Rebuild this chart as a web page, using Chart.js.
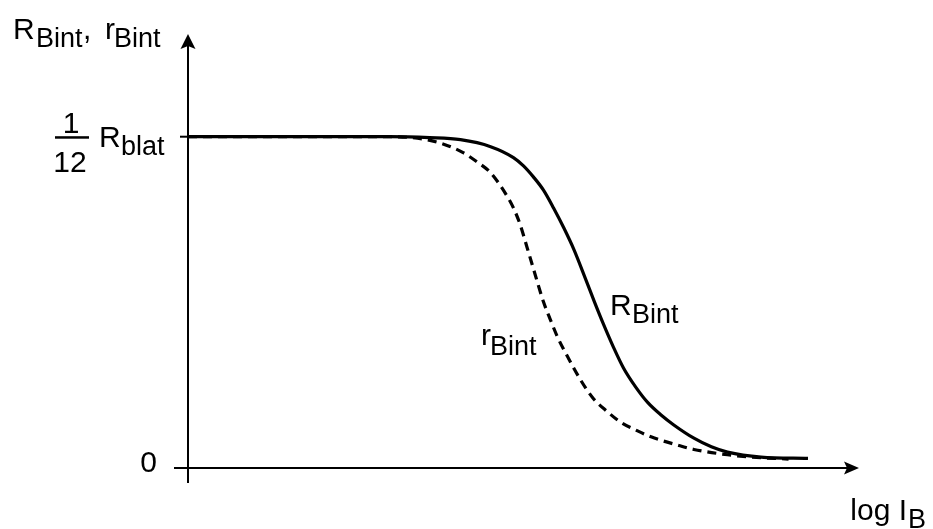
<!DOCTYPE html>
<html>
<head>
<meta charset="utf-8">
<title>R_Bint and r_Bint versus log I_B</title>
<script src="https://cdn.jsdelivr.net/npm/chart.js@4/dist/chart.umd.min.js"></script>
<style>
  html, body { margin: 0; padding: 0; background: #ffffff; }
  #wrap { width: 933px; height: 529px; position: relative; }
</style>
</head>
<body>
<div id="wrap"><canvas id="chart" width="933" height="529"></canvas></div>
<script>
// Horizontal position along log I_B (arbitrary units, 0 = vertical axis)
const RBintX = [0, 30, 36, 40.6, 45.1, 48.5, 50, 51.5, 53, 54.5, 56, 57.5, 59.3, 60.6, 61.9, 63.4, 64.9, 66.7, 68.5, 70.5, 72.4, 75.4, 78, 80.4, 85.4, 92.4];
// Solid curve: R_Bint relative to (1/12) R_blat
const RBintY = [1, 1, 0.997, 0.991, 0.970, 0.937, 0.912, 0.878, 0.838, 0.784, 0.725, 0.660, 0.568, 0.500, 0.435, 0.365, 0.302, 0.245, 0.198, 0.160, 0.130, 0.090, 0.064, 0.048, 0.033, 0.029];

const rBintX = [0, 30, 35, 38, 41, 43, 45.1, 47.6, 48.5, 49.5, 50.5, 51.5, 53, 54, 55.1, 56.6, 58.5, 60.4, 62.5, 64.5, 67, 69, 73, 75.4, 80.4, 85.4, 89.5];
// Dashed curve: r_Bint relative to (1/12) R_blat
const rBintY = [1, 1, 0.993, 0.978, 0.952, 0.925, 0.891, 0.819, 0.785, 0.735, 0.668, 0.600, 0.500, 0.448, 0.394, 0.335, 0.266, 0.210, 0.170, 0.138, 0.112, 0.094, 0.069, 0.056, 0.040, 0.031, 0.027];

// Value-axis marks
const yTickValues = [0, 1];

const X_MIN = 0, X_MAX = 100;
const Y_MIN = 0, Y_MAX = 1.31;

const FONT = '"Liberation Sans", Arial, Helvetica, sans-serif';
const MAIN = 30, SUB = 27;

function pts(xs, ys) { return xs.map((x, i) => ({ x: x, y: ys[i] })); }

// Draws a base text followed by a lowered subscript
function subText(ctx, base, sub, x, y, subX, drop) {
  ctx.font = MAIN + 'px ' + FONT;
  ctx.fillText(base, x, y);
  ctx.font = SUB + 'px ' + FONT;
  ctx.fillText(sub, subX, y + drop);
}

const axesPlugin = {
  id: 'axesAndLabels',
  afterDatasetsDraw(chart) {
    const ctx = chart.ctx;
    const xs = chart.scales.x, ys = chart.scales.y;
    const x0 = xs.getPixelForValue(0);
    const y0 = ys.getPixelForValue(0);
    const top = chart.chartArea.top;
    const right = chart.chartArea.right;

    ctx.save();
    ctx.strokeStyle = '#000';
    ctx.fillStyle = '#000';
    ctx.lineWidth = 2;
    ctx.lineCap = 'butt';

    // vertical axis with arrow
    ctx.beginPath();
    ctx.moveTo(x0, y0 + 15);
    ctx.lineTo(x0, top + 10);
    ctx.stroke();
    ctx.beginPath();
    ctx.moveTo(x0, top);
    ctx.lineTo(x0 - 7.5, top + 15);
    ctx.lineTo(x0, top + 12);
    ctx.lineTo(x0 + 7.5, top + 15);
    ctx.closePath();
    ctx.fill();

    // horizontal axis with arrow
    ctx.beginPath();
    ctx.moveTo(x0 - 14, y0);
    ctx.lineTo(right - 10, y0);
    ctx.stroke();
    ctx.beginPath();
    ctx.moveTo(right, y0);
    ctx.lineTo(right - 15, y0 - 6.5);
    ctx.lineTo(right - 12, y0);
    ctx.lineTo(right - 15, y0 + 6.5);
    ctx.closePath();
    ctx.fill();

    // tick at the upper plateau value
    yTickValues.filter(v => v !== 0).forEach(v => {
      const py = ys.getPixelForValue(v);
      ctx.beginPath();
      ctx.moveTo(x0 - 8, py);
      ctx.lineTo(x0, py);
      ctx.stroke();
    });

    ctx.textBaseline = 'alphabetic';
    ctx.textAlign = 'left';

    // axis titles
    ctx.font = MAIN + 'px ' + FONT;
    ctx.fillText('R', 13, 39);
    ctx.font = SUB + 'px ' + FONT;
    ctx.fillText('Bint', 36, 47);
    ctx.font = MAIN + 'px ' + FONT;
    ctx.fillText(',', 83, 39);
    ctx.fillText('r', 105, 39);
    ctx.font = SUB + 'px ' + FONT;
    ctx.fillText('Bint', 114, 47);

    ctx.textAlign = 'right';
    ctx.font = SUB + 'px ' + FONT;
    ctx.fillText('B', 926, 528);
    ctx.font = MAIN + 'px ' + FONT;
    ctx.fillText('log I', 907, 520);

    // tick labels
    ctx.fillText('0', 157, y0 + 4);

    const p1 = ys.getPixelForValue(1);
    ctx.textAlign = 'center';
    ctx.fillText('1', 71, p1 - 4);
    ctx.fillText('12', 70, p1 + 35);
    ctx.fillRect(55, p1 - 0.5, 34, 2.5);
    ctx.textAlign = 'left';
    subText(ctx, 'R', 'blat', 99, p1 + 10, 121, 8);

    // curve labels
    subText(ctx, 'r', 'Bint', 481, 345, 490, 10);
    subText(ctx, 'R', 'Bint', 610, 315, 632, 8);

    ctx.restore();
  }
};

new Chart(document.getElementById('chart'), {
  type: 'line',
  data: {
    datasets: [
      {
        label: 'R_Bint',
        data: pts(RBintX, RBintY),
        borderColor: '#000',
        borderWidth: 3.2,
        pointRadius: 0,
        cubicInterpolationMode: 'monotone',
        fill: false
      },
      {
        label: 'r_Bint',
        data: pts(rBintX, rBintY),
        borderColor: '#000',
        borderWidth: 3.2,
        borderDash: [9, 6],
        pointRadius: 0,
        cubicInterpolationMode: 'monotone',
        fill: false
      }
    ]
  },
  options: {
    responsive: false,
    animation: false,
    devicePixelRatio: 1,
    layout: { padding: { left: 188, right: 74, top: 34, bottom: 61 } },
    scales: {
      x: { type: 'linear', min: X_MIN, max: X_MAX, display: false },
      y: { type: 'linear', min: Y_MIN, max: Y_MAX, display: false }
    },
    plugins: {
      legend: { display: false },
      tooltip: { enabled: false }
    }
  },
  plugins: [axesPlugin]
});
</script>
</body>
</html>
